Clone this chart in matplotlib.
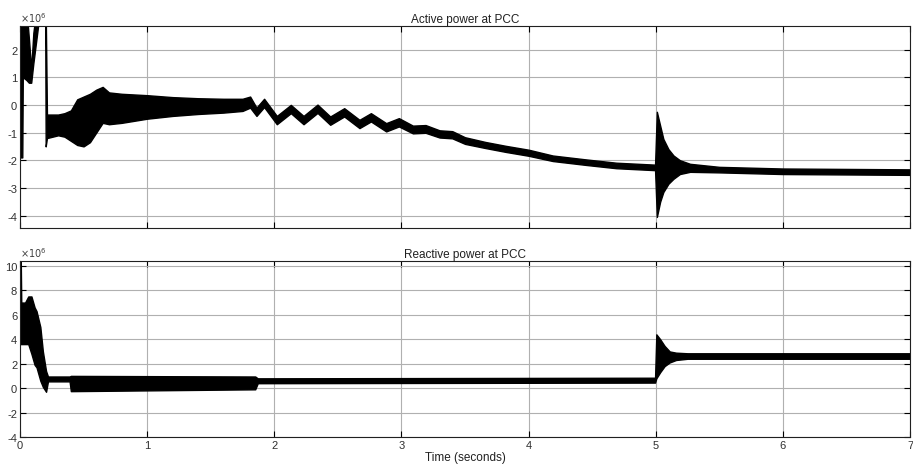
import numpy as np
import matplotlib
matplotlib.use("Agg")
import matplotlib.pyplot as plt
from matplotlib.ticker import FuncFormatter

plt.rcParams['font.family'] = ['Liberation Sans', 'DejaVu Sans']
plt.rcParams['axes.unicode_minus'] = False

SCALE = 1e6

# Active power envelope (x1e6): time, lower edge, upper edge
p_time = [0.000, 0.018, 0.022, 0.050, 0.070, 0.088, 0.105, 0.130, 0.160, 0.198,
          0.202, 0.212, 0.300, 0.350, 0.400, 0.450, 0.500, 0.550, 0.600, 0.650,
          0.700, 0.800, 1.000, 1.200, 1.400, 1.600, 1.750, 1.810, 1.860, 1.920,
          2.020, 2.130, 2.230, 2.340, 2.440, 2.550, 2.670, 2.760, 2.880, 2.980,
          3.090, 3.190, 3.300, 3.400, 3.500, 3.660, 3.820, 4.000, 4.190, 4.450,
          4.690, 4.995, 5.009, 5.035, 5.060, 5.100, 5.140, 5.190, 5.270, 5.500,
          6.000, 7.000]
p_lower = [-1.9, -1.9, 1.0, 0.9, 0.8, 0.8, 1.5, 2.4, 3.5, 3.5,
           -1.5, -1.2, -1.1, -1.15, -1.3, -1.45, -1.5, -1.35, -1.0, -0.65,
           -0.7, -0.65, -0.5, -0.4, -0.33, -0.28, -0.22, -0.1, -0.4, -0.08,
           -0.7, -0.3, -0.7, -0.29, -0.72, -0.42, -0.84, -0.6, -0.96, -0.78,
           -1.03, -1.01, -1.18, -1.21, -1.41, -1.56, -1.7, -1.84, -2.03, -2.17,
           -2.29, -2.36, -4.05, -3.5, -3.15, -2.85, -2.67, -2.5, -2.42, -2.44,
           -2.5, -2.53]
p_upper = [3.5, 3.5, 3.5, 3.5, 2.4, 1.3, 2.6, 3.5, 3.5, 3.5,
           3.5, -0.35, -0.35, -0.3, -0.2, 0.2, 0.3, 0.4, 0.55, 0.65,
           0.45, 0.4, 0.35, 0.28, 0.24, 0.22, 0.22, 0.3, -0.1, 0.22,
           -0.4, 0.0, -0.4, 0.01, -0.42, -0.12, -0.54, -0.3, -0.66, -0.48,
           -0.75, -0.73, -0.92, -0.95, -1.17, -1.34, -1.48, -1.62, -1.83, -1.97,
           -2.09, -2.16, -0.25, -0.75, -1.23, -1.6, -1.83, -2.0, -2.13, -2.24,
           -2.3, -2.33]

# Reactive power envelope (x1e6): time, lower edge, upper edge
q_time = [0.000, 0.006, 0.010, 0.040, 0.065, 0.090, 0.115, 0.130, 0.160, 0.180,
          0.205, 0.220, 0.390, 0.400, 1.850, 1.870, 4.995, 5.005, 5.035, 5.070,
          5.110, 5.160, 5.250, 7.000]
q_lower = [3.6, 3.6, 3.6, 3.6, 3.6, 2.8, 1.9, 1.7, 0.6, 0.1,
           -0.3, 0.55, 0.55, -0.25, -0.1, 0.4, 0.45, 0.8, 1.3, 1.8,
           2.1, 2.3, 2.4, 2.4]
q_upper = [10.5, 10.5, 7.0, 7.0, 7.5, 7.5, 6.6, 6.3, 5.0, 3.0,
           1.4, 0.95, 0.95, 1.0, 0.95, 0.8, 0.85, 4.4, 4.0, 3.45,
           3.0, 2.9, 2.85, 2.85]

x_ticks = [0, 1, 2, 3, 4, 5, 6, 7]
p_yticks = [-4, -3, -2, -1, 0, 1, 2]
q_yticks = [-4, -2, 0, 2, 4, 6, 8, 10]

fig = plt.figure(figsize=(9.13, 4.77), dpi=100)
ax1 = fig.add_axes([0.0219, 0.5199, 0.9748, 0.4235])
ax2 = fig.add_axes([0.0219, 0.0818, 0.9748, 0.3689])


def style(ax, yticks, ylim, title):
    ax.set_xlim(0, 7)
    ax.set_ylim(ylim[0] * SCALE, ylim[1] * SCALE)
    ax.set_xticks(x_ticks)
    ax.set_yticks([v * SCALE for v in yticks])
    ax.yaxis.set_major_formatter(FuncFormatter(lambda v, _: f"{v / SCALE:g}"))
    ax.text(0.0, 1.012, r'$\times10^{6}$', transform=ax.transAxes,
            fontsize=7, color='#404040', ha='left', va='bottom')
    ax.grid(True, color='#b0b0b0', linewidth=0.8)
    ax.set_axisbelow(True)
    ax.tick_params(direction='in', top=True, right=True, length=4,
                   labelsize=8, labelcolor='#303030', pad=2)
    for s in ax.spines.values():
        s.set_color('#202020')
    ax.set_title(title, fontsize=8.5, pad=3, color='#202020')


ax1.fill_between(p_time, np.array(p_lower) * SCALE, np.array(p_upper) * SCALE,
                 color='black', edgecolor='black', linewidth=1.0)
style(ax1, p_yticks, (-4.45, 2.85), 'Active power at PCC')
ax1.tick_params(labelbottom=False)

ax2.fill_between(q_time, np.array(q_lower) * SCALE, np.array(q_upper) * SCALE,
                 color='black', edgecolor='black', linewidth=1.0)
style(ax2, q_yticks, (-4.0, 10.4), 'Reactive power at PCC')
ax2.set_xlabel('Time (seconds)', fontsize=8.5, labelpad=1, color='#202020')

fig.savefig('out.png', dpi=100)
